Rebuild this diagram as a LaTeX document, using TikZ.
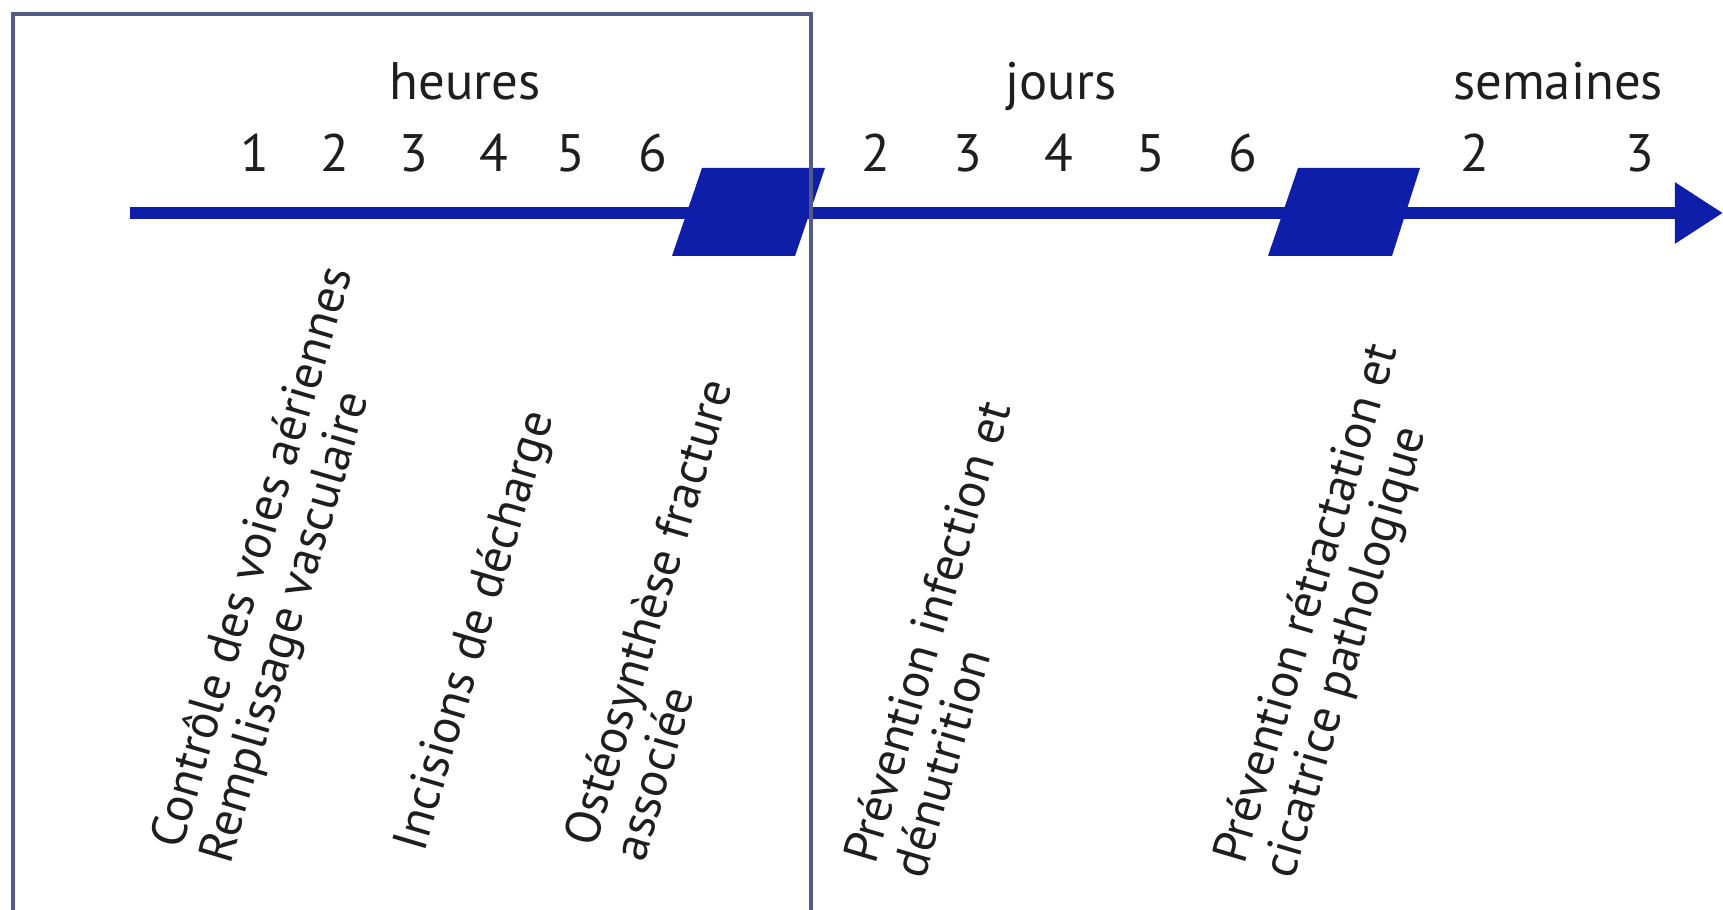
\documentclass[tikz,border=0pt]{standalone}
\usepackage{fontspec}
\setmainfont{PT Sans}
\usepackage{tikz}
\usetikzlibrary{arrows.meta,positioning}
\definecolor{tlblue}{RGB}{14,30,168}
\definecolor{tlframe}{RGB}{82,91,132}
\definecolor{tltext}{RGB}{30,30,30}
\tikzset{
  tlAxis/.style={-{Triangle[length=4.8mm,width=5.8mm]}, line width=1.2mm, draw=tlblue},
  tlBlock/.style={fill=tlblue},
  tlUnit/.style={anchor=base, inner sep=0pt, text=tltext,
                 font=\fontsize{15}{18}\selectfont},
  tlTick/.style={anchor=base, inner sep=0pt, text=tltext,
                 font=\fontsize{15}{18}\selectfont},
  tlTask/.style={anchor=base west, inner sep=0pt, text=tltext, align=left,
                 rotate=73.5, font=\fontsize{14}{14.5}\selectfont},
  tlFrame/.style={draw=tlframe, line width=0.4mm}
}

\begin{document}
\begin{tikzpicture}[x=0.01cm,y=-0.01cm]
  \useasboundingbox (0,0) rectangle (1723,910);

  \coordinate (tstart) at (130,213);
  \coordinate (tend) at (1723,213);
  \draw[tlAxis] (tstart) -- (tend);

  \fill[tlBlock] (702,168) -- (825,168) -- (795,256) -- (672,256) -- cycle;
  \fill[tlBlock] (1298,168) -- (1420,168) -- (1392,256) -- (1268,256) -- cycle;

  \node[tlUnit] (heures) at (465,100) {heures};
  \node[tlUnit] (jours) at (1061,100) {jours};
  \node[tlUnit] (semaines) at (1558,100) {semaines};

  \node[tlTick] (h1) at (255,172) {1};
  \node[tlTick] (h2) at (335,172) {2};
  \node[tlTick] (h3) at (414,172) {3};
  \node[tlTick] (h4) at (494,172) {4};
  \node[tlTick] (h5) at (571,172) {5};
  \node[tlTick] (h6) at (653,172) {6};
  \node[tlTick] (j2) at (876,172) {2};
  \node[tlTick] (j3) at (968,172) {3};
  \node[tlTick] (j4) at (1059,172) {4};
  \node[tlTick] (j5) at (1151,172) {5};
  \node[tlTick] (j6) at (1243,172) {6};
  \node[tlTick] (s2) at (1475,172) {2};
  \node[tlTick] (s3) at (1640,172) {3};

  \node[tlTask] (voies) at (230,866)
        {Contrôle des voies aériennes\\Remplissage vasculaire};
  \node[tlTask] (incis) at (424,854) {Incisions de décharge};
  \node[tlTask] (osteo) at (644,864) {Ostéosynthèse fracture\\associée};
  \node[tlTask] (infect) at (924,881) {Prévention infection et\\dénutrition};
  \node[tlTask] (retract) at (1293,881)
        {Prévention rétractation et\\cicatrice pathologique};

  \draw[tlFrame] (13,960) |- (811,14) -- (811,960);
\end{tikzpicture}
\end{document}
